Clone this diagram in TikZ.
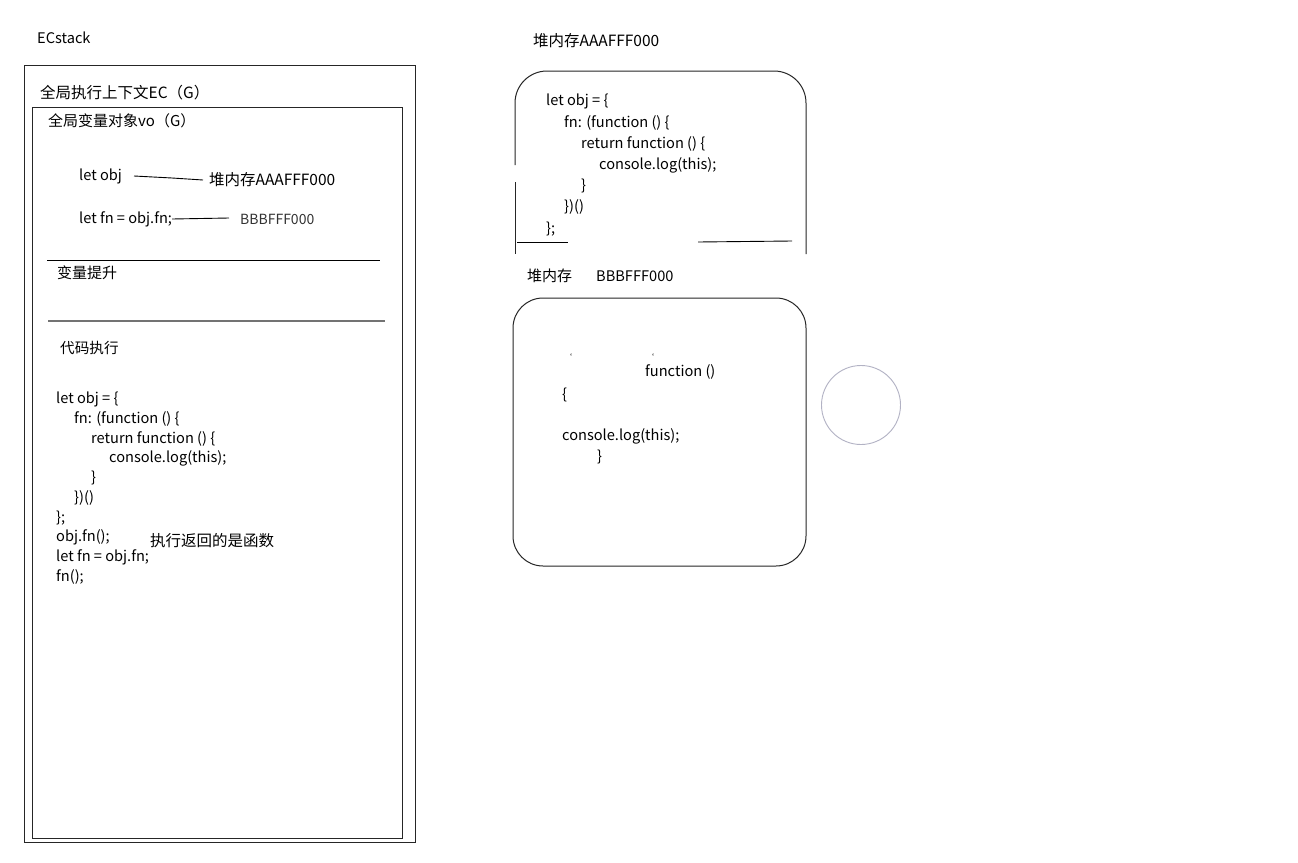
\documentclass[tikz,border=0pt]{standalone}
\usepackage{fontspec}
\setmainfont{Noto Sans CJK SC}
\definecolor{circcol}{RGB}{178,178,196}
\begin{document}
\begin{tikzpicture}[x=1pt,y=-1pt,
  txt/.style={anchor=west,inner sep=0pt,font=\fontsize{14.6}{16}\selectfont},
  big/.style={anchor=west,inner sep=0pt,font=\fontsize{15.5}{18}\selectfont},
  small/.style={anchor=west,inner sep=0pt,font=\fontsize{14}{16}\selectfont,text=black!80},
  codeL/.style={anchor=north west,inner sep=0pt,align=left,font=\fontsize{14.6}{19.7}\selectfont},
  codeR/.style={anchor=north west,inner sep=0pt,align=left,font=\fontsize{14.6}{21.2}\selectfont},
  frame/.style={draw=black!85,line width=1pt},
  link/.style={draw=black,line width=0.9pt}]
\useasboundingbox (0,0) rectangle (1298,862);
\fill[white] (0,0) rectangle (1298,862);

% ---- left stack ----
\node[txt] (ecs) at (37,38) {ECstack};
\draw[frame] (24,65) rectangle (415,842);
\node[big] (ecg) at (40,93) {全局执行上下文EC（G）};
\draw[frame] (32,107) rectangle (402,838);
\node[txt,font=\fontsize{15}{18}\selectfont] (vog) at (48,121) {全局变量对象vo（G）};

\node[txt] (letobj) at (79,176) {let obj};
\node[big] (heapA) at (209,180) {堆内存AAAFFF000};
\coordinate (la) at (134,176);
\coordinate (lb) at (172,178);
\draw[link] (la) -- (lb) -- ([xshift=-6pt]heapA.west);

\node[txt] (letfn) at (79,219) {let fn = obj.fn;};
\node[small] (bbb) at (240,219) {BBBFFF000};
\draw[link] (letfn.east) -- (229,218);

\draw[line width=0.9pt] (47,260) -- (380,260);
\node[txt,font=\fontsize{15}{18}\selectfont] (vp) at (57,273) {变量提升};
\draw[line width=1.2pt,black!55] (48,321) -- (385,321);
\node[txt] (exec) at (60,348) {代码执行};

\node[codeL] (code1) at (56,392) {let obj = \{\\
\hspace*{18pt}fn: (function () \{\\
\hspace*{35pt}return function () \{\\
\hspace*{53pt}console.log(this);\\
\hspace*{35pt}\}\\
\hspace*{18pt}\})()\\
\};\\
obj.fn();\\
let fn = obj.fn;\\
fn();};
\node[big] (ret) at (150,541) {执行返回的是函数};

% ---- heap AAAFFF000 ----
\node[big] (hA) at (533,41) {堆内存AAAFFF000};
\draw[frame,rounded corners=32pt] (515,165) -- (515,71) -- (806,71) -- (806,254);
\draw[frame] (515,182) -- (515,254);
\draw[line width=0.9pt] (517,242) -- (568,242);
\draw[line width=0.9pt] (698,242) -- (792,241);
\node[codeR] (code2) at (546,94) {let obj = \{\\
\hspace*{18pt}fn: (function () \{\\
\hspace*{35pt}return function () \{\\
\hspace*{53pt}console.log(this);\\
\hspace*{35pt}\}\\
\hspace*{18pt}\})()\\
\};};

% ---- heap BBBFFF000 ----
\node[txt,font=\fontsize{15}{18}\selectfont] (hB) at (527,276) {堆内存};
\node[txt] (hBaddr) at (596,276) {BBBFFF000};
\draw[frame,rounded corners=30pt] (513,298) rectangle (806,566);
\node[txt,font=\fontsize{8}{8}\selectfont] (tk1) at (564,357) {`};
\node[txt,font=\fontsize{8}{8}\selectfont] (tk2) at (646,357) {`};
\node[txt] (fn2) at (645,372) {function ()};
\node[txt] (br1) at (562,395) {\{};
\node[txt] (cl2) at (562,436) {console.log(this);};
\node[txt] (br2) at (597,457) {\}};

\node[draw=circcol,line width=0.9pt,circle,minimum size=79pt,inner sep=0pt] (circ) at (861,405) {};
\end{tikzpicture}
\end{document}
